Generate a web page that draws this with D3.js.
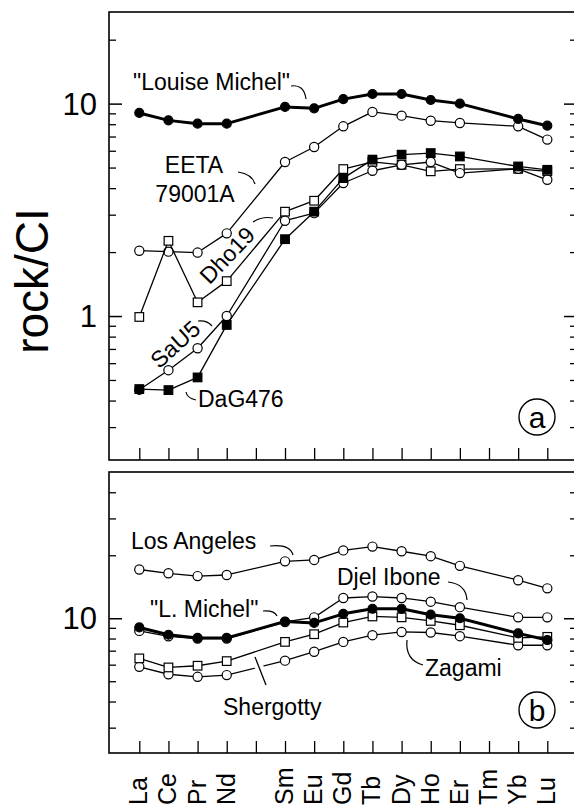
<!DOCTYPE html>
<html>
<head>
<meta charset="utf-8">
<script src="https://cdn.jsdelivr.net/npm/d3@7"></script>
<style>
  body { margin: 0; background: #fff; }
  text { font-family: "Liberation Sans", Arial, sans-serif; fill: #000; }
</style>
</head>
<body>
<div id="chart-area"></div>
<script>
// REE order on the axis (Pm gets a tick but no label / data)
var axisElements = ['La','Ce','Pr','Nd','Pm','Sm','Eu','Gd','Tb','Dy','Ho','Er','Tm','Yb','Lu'];
var labelElements = ['La','Ce','Pr','Nd','Sm','Eu','Gd','Tb','Dy','Ho','Er','Tm','Yb','Lu'];
// elements that carry analyses
var elements = ['La','Ce','Pr','Nd','Sm','Eu','Gd','Tb','Dy','Ho','Er','Yb','Lu'];

// panel a
var louiseMichel = [9.04, 8.34, 8.05, 8.05, 9.65, 9.5, 10.5, 11.1, 11.1, 10.4, 10.0, 8.47, 7.87];
var eeta79001A   = [2.03, 2.01, 1.99, 2.45, 5.31, 6.25, 7.82, 9.14, 8.78, 8.31, 8.11, 7.82, 6.77];
var dho19        = [0.99, 2.26, 1.16, 1.46, 3.10, 3.49, 4.92, 5.32, 5.15, 4.80, 4.92, 4.93, 4.80];
var sau5         = [0.45, 0.556, 0.705, 1.0, 2.81, 3.05, 4.23, 4.83, 5.15, 5.31, 4.71, 4.93, 4.38];
var dag476       = [0.453, 0.448, 0.514, 0.908, 2.30, 3.10, 4.46, 5.45, 5.75, 5.85, 5.64, 5.06, 4.88];

// panel b
var losAngeles   = [17.1, 16.4, 15.9, 16.1, 18.7, 19.0, 21.1, 22.0, 20.9, 19.8, 17.8, 15.2, 13.9];
var djelIbone    = [8.7, 8.2, 8.0, 8.0, 9.6, 10.1, 12.5, 12.7, 12.5, 12.0, 11.3, 10.1, 10.1];
var shergotty    = [6.43, 5.82, 5.93, 6.24, 7.71, 8.39, 9.54, 10.2, 10.1, 9.71, 9.26, 8.06, 8.15];
var zagami       = [5.86, 5.40, 5.25, 5.35, 6.27, 6.92, 7.71, 8.30, 8.60, 8.55, 8.21, 7.43, 7.43];

// y tick values
var topMajor = [1, 10];
var topMinor = [0.3, 0.4, 0.5, 0.6, 0.7, 0.8, 0.9, 2, 3, 4, 5, 6, 7, 8, 9, 20];
var botMajor = [10];
var botMinor = [3, 4, 5, 6, 7, 8, 9, 20, 30, 40];

var width = 574, height = 807;
var left = 109, right = 577;

var svg = d3.select('#chart-area')
    .append('svg')
        .attr('width', width)
        .attr('height', height);

var x = d3.scalePoint()
    .domain(axisElements)
    .range([139.3, 547.3]);

var panels = [
    {top: 12, bottom: 460, domain: [0.21, 27], major: topMajor, minor: topMinor,
     series: [
        {v: eeta79001A, sym: 'circle', fill: '#fff', lw: 1.3},
        {v: dho19, sym: 'square', fill: '#fff', lw: 1.3},
        {v: sau5, sym: 'circle', fill: '#fff', lw: 1.3},
        {v: dag476, sym: 'square', fill: '#000', lw: 1.3},
        {v: louiseMichel, sym: 'circle', fill: '#000', lw: 3}
     ]},
    {top: 472, bottom: 753, domain: [2.27, 50], major: botMajor, minor: botMinor,
     series: [
        {v: losAngeles, sym: 'circle', fill: '#fff', lw: 1.3},
        {v: djelIbone, sym: 'circle', fill: '#fff', lw: 1.3},
        {v: zagami, sym: 'circle', fill: '#fff', lw: 1.3},
        {v: shergotty, sym: 'square', fill: '#fff', lw: 1.3},
        {v: louiseMichel, sym: 'circle', fill: '#000', lw: 3}
     ]}
];

panels.forEach(function(p) {
    var y = d3.scaleLog().domain(p.domain).range([p.bottom, p.top]);
    p.y = y;

    // inward ticks, left and right
    [[d3.axisRight, left, 1], [d3.axisLeft, right, -1]].forEach(function(a) {
        svg.append('g')
            .attr('transform', 'translate(' + a[1] + ',0)')
            .call(a[0](y).tickValues(p.minor).tickSize(7).tickFormat(''))
            .call(function(g) { g.select('.domain').remove(); g.selectAll('line').attr('stroke-width', 1.3); });
        svg.append('g')
            .attr('transform', 'translate(' + a[1] + ',0)')
            .call(a[0](y).tickValues(p.major).tickSize(13).tickFormat(''))
            .call(function(g) { g.select('.domain').remove(); g.selectAll('line').attr('stroke-width', 1.5); });
    });

    // x ticks pointing up from panel bottom
    svg.append('g')
        .attr('transform', 'translate(0,' + p.bottom + ')')
        .call(d3.axisTop(x).tickSize(12).tickFormat(''))
        .call(function(g) { g.select('.domain').remove(); g.selectAll('line').attr('stroke-width', 1.3); });

    // major tick labels
    p.major.forEach(function(t) {
        svg.append('text')
            .attr('x', 97)
            .attr('y', y(t))
            .attr('dy', '0.36em')
            .attr('text-anchor', 'end')
            .attr('font-size', '31px')
            .text(t);
    });

    // frame
    svg.append('rect')
        .attr('x', left).attr('y', p.top)
        .attr('width', right - left).attr('height', p.bottom - p.top)
        .attr('fill', 'none').attr('stroke', '#000').attr('stroke-width', 1.6);

    var line = d3.line()
        .x(function(d, i) { return x(elements[i]); })
        .y(function(d) { return y(d); });

    p.series.forEach(function(s) {
        svg.append('path')
            .datum(s.v)
            .attr('d', line)
            .attr('fill', 'none')
            .attr('stroke', '#000')
            .attr('stroke-width', s.lw)
            .attr('stroke-linejoin', 'round');

        var g = svg.append('g');
        if (s.sym === 'circle') {
            g.selectAll('circle').data(s.v).enter()
                .append('circle')
                .attr('cx', function(d, i) { return x(elements[i]); })
                .attr('cy', function(d) { return y(d); })
                .attr('r', s.fill === '#000' ? 4.5 : 4.6)
                .attr('fill', s.fill)
                .attr('stroke', '#000')
                .attr('stroke-width', 1.2);
        } else {
            g.selectAll('rect').data(s.v).enter()
                .append('rect')
                .attr('x', function(d, i) { return x(elements[i]) - 4.3; })
                .attr('y', function(d) { return y(d) - 4.3; })
                .attr('width', 8.6)
                .attr('height', 8.6)
                .attr('fill', s.fill)
                .attr('stroke', '#000')
                .attr('stroke-width', 1.2);
        }
    });
});

// element labels along the bottom
labelElements.forEach(function(el) {
    svg.append('text')
        .attr('transform', 'translate(' + (x(el) + 8) + ',805) rotate(-90)')
        .attr('text-anchor', 'start')
        .attr('font-size', '25px')
        .text(el);
});

// y axis title
svg.append('text')
    .attr('transform', 'translate(48,281) rotate(-90)')
    .attr('text-anchor', 'middle')
    .attr('font-size', '46px')
    .text('rock/CI');

// annotations
var labels = [
    {t: '"Louise Michel"', x: 133, y: 90},
    {t: 'EETA', x: 194, y: 173, a: 'middle'},
    {t: '79001A', x: 195, y: 202, a: 'middle'},
    {t: 'DaG476', x: 198, y: 407},
    {t: 'Los Angeles', x: 131, y: 549},
    {t: 'Djel Ibone', x: 337, y: 585},
    {t: '"L. Michel"', x: 150, y: 617},
    {t: 'Zagami', x: 425, y: 676},
    {t: 'Shergotty', x: 223, y: 715}
];
labels.forEach(function(l) {
    svg.append('text')
        .attr('x', l.x).attr('y', l.y)
        .attr('text-anchor', l.a || 'start')
        .attr('font-size', '23px')
        .text(l.t);
});

[{t: 'Dho19', x: 227, y: 255, r: -46}, {t: 'SaU5', x: 175, y: 344, r: -42}].forEach(function(l) {
    svg.append('text')
        .attr('transform', 'translate(' + l.x + ',' + l.y + ') rotate(' + l.r + ')')
        .attr('text-anchor', 'middle')
        .attr('dy', '0.36em')
        .attr('font-size', '23px')
        .text(l.t);
});

var pointers = [
    'M291,86 Q304,84 306,99',
    'M238,172 Q252,174 255,184',
    'M253,222 Q262,216 273,218',
    'M198,321 Q207,320 212,326',
    'M196,400 Q187,398 186,392',
    'M270,546 Q290,544 293,555',
    'M448,582 Q466,584 467,600',
    'M263,611 Q274,610 277,616',
    'M423,665 Q405,660 407,640'
];
pointers.forEach(function(d) {
    svg.append('path').attr('d', d)
        .attr('fill', 'none').attr('stroke', '#000').attr('stroke-width', 1.2);
});

// Shergotty leader cuts through the Zagami line
svg.append('path').attr('d', 'M256,659 L266,685')
    .attr('stroke', '#fff').attr('stroke-width', 9);
svg.append('path').attr('d', 'M255,657 L266,685')
    .attr('stroke', '#000').attr('stroke-width', 1.3);

// panel letters
[{t: 'a', cx: 537, cy: 417}, {t: 'b', cx: 537, cy: 710}].forEach(function(l) {
    svg.append('circle')
        .attr('cx', l.cx).attr('cy', l.cy).attr('r', 18)
        .attr('fill', '#fff').attr('stroke', '#000').attr('stroke-width', 1.4);
    svg.append('text')
        .attr('x', l.cx).attr('y', l.cy)
        .attr('dy', '0.35em')
        .attr('text-anchor', 'middle')
        .attr('font-size', '30px')
        .text(l.t);
});
</script>
</body>
</html>
